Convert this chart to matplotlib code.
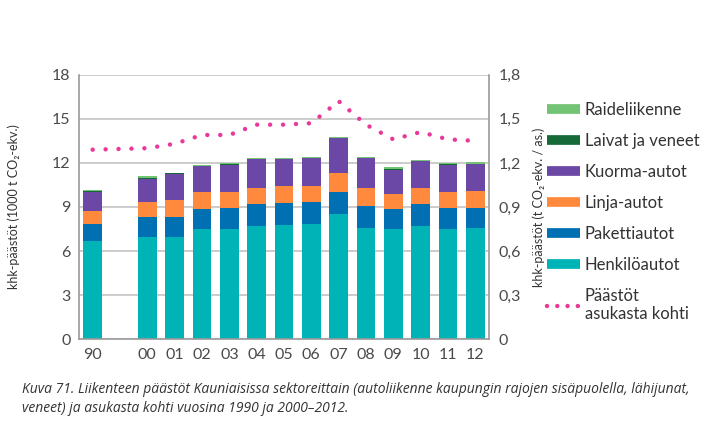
import matplotlib.pyplot as plt
import numpy as np
from matplotlib.lines import Line2D

plt.rcParams['font.family'] = ['Lato', 'DejaVu Sans']

# Data (1000 t CO2-ekv.)
years = ['90', '00', '01', '02', '03', '04', '05', '06', '07', '08', '09', '10', '11', '12']
henkiloautot = [6.71, 6.93, 6.93, 7.47, 7.47, 7.70, 7.79, 7.84, 8.51, 7.57, 7.47, 7.70, 7.47, 7.57]
pakettiautot = [1.13, 1.40, 1.40, 1.42, 1.49, 1.49, 1.49, 1.50, 1.53, 1.52, 1.42, 1.49, 1.49, 1.39]
linja_autot = [0.90, 1.01, 1.13, 1.11, 1.04, 1.10, 1.12, 1.11, 1.28, 1.20, 1.02, 1.10, 1.04, 1.11]
kuorma_autot = [1.30, 1.58, 1.80, 1.80, 1.89, 1.98, 1.87, 1.89, 2.37, 2.05, 1.64, 1.82, 1.89, 1.86]
laivat = [0.02, 0.02, 0.02, 0.02, 0.02, 0.02, 0.02, 0.02, 0.02, 0.02, 0.02, 0.02, 0.02, 0.02]
raideliikenne = [0.10, 0.14, 0.05, 0.07, 0.07, 0.07, 0.07, 0.07, 0.07, 0.07, 0.14, 0.07, 0.07, 0.10]
per_capita = [1.29, 1.30, 1.33, 1.39, 1.39, 1.46, 1.46, 1.47, 1.62, 1.46, 1.36, 1.41, 1.36, 1.35]

# 1990 is separated from 2000 by an empty slot
x = np.array([0] + list(range(2, 15)))

colors = ['#00B3B6', '#0070B3', '#FF8A3D', '#6B48A6', '#17693A', '#72C374']
labels = ['Henkilöautot', 'Pakettiautot', 'Linja-autot', 'Kuorma-autot',
          'Laivat ja veneet', 'Raideliikenne']
series = [henkiloautot, pakettiautot, linja_autot, kuorma_autot, laivat, raideliikenne]

fig = plt.figure(figsize=(7.08, 4.47), dpi=100)
ax = fig.add_axes([79 / 708, 1 - 339.3 / 447, 410 / 708, 264.6 / 447])

bottom = np.zeros(len(x))
for vals, c in zip(series, colors):
    ax.bar(x, vals, bottom=bottom, width=0.68, color=c, edgecolor='none', zorder=2)
    bottom += np.array(vals)

ax.set_xlim(-0.5, 14.5)
ax.set_ylim(0, 18)
ax.set_yticks(range(0, 19, 3))
ax.set_xticks(x)
ax.set_xticklabels(years)
ax.grid(axis='y', color='#C4C4C4', linewidth=1.2, zorder=0)
ax.set_axisbelow(True)
ax.tick_params(axis='both', length=0, labelsize=11.5, colors='#4A4A4A')
ax.tick_params(axis='y', pad=6)
ax.tick_params(axis='x', pad=6)
for s in ['top', 'right']:
    ax.spines[s].set_visible(False)
for s in ['left', 'bottom']:
    ax.spines[s].set_color('#9A9A9A')
    ax.spines[s].set_linewidth(1.2)
ax.set_ylabel('khk-päästöt (1000 t CO₂-ekv.)', fontsize=9, color='#333333')
ax.yaxis.set_label_coords(-0.145, 0.5)

ax2 = ax.twinx()
ax2.plot(x, per_capita, color='#E8399A', linewidth=3.2,
         linestyle=(0, (0.01, 2.9)), dash_capstyle='round', zorder=3)
ax2.set_ylim(0, 1.8)
ax2.set_yticks(np.arange(0, 1.81, 0.3))
ax2.set_yticklabels(['0', '0,3', '0,6', '0,9', '1,2', '1,5', '1,8'])
ax2.tick_params(axis='y', length=0, labelsize=11.5, colors='#4A4A4A', pad=7)
for s in ['top', 'left', 'bottom']:
    ax2.spines[s].set_visible(False)
ax2.spines['right'].set_color('#9A9A9A')
ax2.spines['right'].set_linewidth(1.2)
ax2.set_ylabel('khk-päästöt (t CO₂-ekv. / as.)', fontsize=9, color='#333333')
ax2.yaxis.set_label_coords(1.105, 0.5)

handles = [Line2D([], [], color=c, linewidth=7, solid_capstyle='butt')
           for c in colors[::-1]]
handles.append(Line2D([], [], color='#E8399A', linewidth=3.2,
                      linestyle=(0, (0.01, 2.3)), dash_capstyle='round'))
leg_labels = labels[::-1] + ['Päästöt\nasukasta kohti']
fig.legend(handles, leg_labels, loc='upper left', bbox_to_anchor=(0.752, 0.806),
           frameon=False, fontsize=12, handlelength=1.95, handletextpad=0.3,
           labelspacing=0.9, labelcolor='#333333')

fig.text(22 / 708, 1 - 399 / 447,
         'Kuva 71. Liikenteen päästöt Kauniaisissa sektoreittain (autoliikenne kaupungin rajojen sisäpuolella, lähijunat,\n'
         'veneet) ja asukasta kohti vuosina 1990 ja 2000–2012.',
         fontsize=10, style='italic', color='#333333', va='center', linespacing=1.3,
         family=['Open Sans', 'DejaVu Sans'])

fig.savefig('out.png', dpi=100)
